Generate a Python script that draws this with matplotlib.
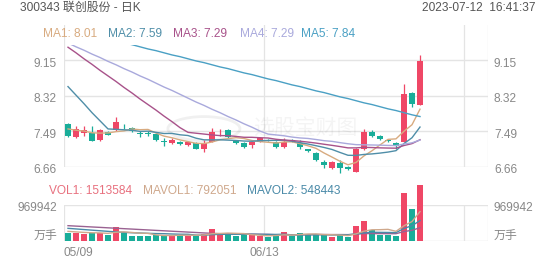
import numpy as np
import pandas as pd
import matplotlib
matplotlib.use("Agg")
import matplotlib.pyplot as plt
from matplotlib.patches import Rectangle, Circle

plt.rcParams['font.family'] = ['Liberation Sans', 'Noto Sans CJK SC', 'DejaVu Sans']

title = "300343 联创股份 - 日K"
timestamp = "2023-07-12  16:41:37"

opens = [7.66, 7.36, 7.46, 7.46, 7.30, 7.47, 7.52, 7.62, 7.58, 7.45,
         7.45, 7.43, 7.26, 7.22, 7.25, 7.18, 7.23, 7.07, 7.25, 7.45,
         7.52, 7.27, 7.22, 7.17, 7.25, 7.30, 7.25, 7.12, 7.30, 7.22,
         7.07, 6.98, 6.78, 6.63, 6.76, 6.67, 6.55, 7.07, 7.48, 7.38,
         7.28, 7.22, 7.25, 8.38, 8.12]
highs = [7.68, 7.63, 7.61, 7.61, 7.56, 7.49, 7.84, 7.67, 7.60, 7.49,
         7.49, 7.45, 7.33, 7.34, 7.27, 7.27, 7.25, 7.30, 7.58, 7.56,
         7.55, 7.29, 7.24, 7.26, 7.35, 7.32, 7.27, 7.33, 7.32, 7.29,
         7.09, 7.00, 6.82, 6.80, 6.82, 6.69, 7.10, 7.56, 7.53, 7.40,
         7.30, 7.25, 8.60, 8.42, 9.28]
lows = [7.37, 7.33, 7.38, 7.27, 7.27, 7.40, 7.50, 7.56, 7.48, 7.36,
        7.38, 7.27, 7.15, 7.19, 7.18, 7.16, 7.08, 7.01, 7.24, 7.38,
        7.33, 7.20, 7.10, 7.10, 7.24, 7.26, 7.11, 7.11, 7.24, 7.07,
        7.01, 6.80, 6.64, 6.62, 6.53, 6.60, 6.54, 7.06, 7.35, 7.29,
        7.24, 7.09, 7.24, 8.07, 8.10]
closes = [7.39, 7.56, 7.52, 7.27, 7.52, 7.41, 7.71, 7.61, 7.49, 7.44,
          7.44, 7.29, 7.25, 7.30, 7.19, 7.24, 7.09, 7.22, 7.48, 7.46,
          7.36, 7.21, 7.12, 7.25, 7.33, 7.28, 7.12, 7.25, 7.26, 7.12,
          7.03, 6.82, 6.71, 6.78, 6.63, 6.62, 7.09, 7.48, 7.38, 7.31,
          7.27, 7.15, 8.37, 8.14, 9.13]
volumes = [224000, 224000, 197000, 224000, 224000, 162000, 368000, 251000, 144000, 126000,
           144000, 162000, 162000, 144000, 162000, 144000, 162000, 197000, 314000, 197000,
           197000, 126000, 162000, 162000, 135000, 117000, 162000, 251000, 135000, 207000,
           180000, 180000, 162000, 117000, 162000, 110000, 405000, 530000, 305000, 174000,
           155000, 140000, 1280000, 871700, 1513584]

# moving-average values before enough in-window history exists
ma1_head = [7.55, 7.52, 7.50, 7.46]
ma2_head = [8.54, 8.34, 8.14, 7.93, 7.74, 7.55, 7.54, 7.53, 7.52]
ma3_head = [9.46, 9.33, 9.19, 9.06, 8.92, 8.79, 8.66, 8.52, 8.39, 8.25,
            8.12, 7.99, 7.85, 7.72, 7.58, 7.47, 7.45, 7.43, 7.41]
ma4_head = [9.56, 9.47, 9.39, 9.30, 9.22, 9.13, 9.05, 8.96, 8.88, 8.79,
            8.71, 8.62, 8.53, 8.45, 8.36, 8.27, 8.18, 8.10, 8.01, 7.93,
            7.84, 7.76, 7.67, 7.59, 7.50, 7.43, 7.41, 7.39, 7.36]
ma5_vals = [9.89, 9.84, 9.80, 9.75, 9.70, 9.66, 9.61, 9.56, 9.52, 9.47,
            9.42, 9.38, 9.33, 9.28, 9.24, 9.19, 9.14, 9.10, 9.05, 9.00,
            8.96, 8.91, 8.86, 8.82, 8.77, 8.72, 8.68, 8.63, 8.58, 8.54,
            8.49, 8.44, 8.40, 8.35, 8.30, 8.26, 8.21, 8.16, 8.12, 8.07,
            8.02, 7.98, 7.93, 7.88, 7.84]
mavol1_head = [260000, 245000, 232000, 222000]
mavol2_head = [341000, 325000, 308000, 292000, 276000, 260000, 245000, 232000, 222000]
mavol3_head = [413000, 401000, 390000, 378000, 367000, 355000, 344000, 332000, 321000, 309000,
               298000, 286000, 275000, 263000, 252000, 240000, 229000, 217000, 206000]

legend_ma = ["MA1: 8.01", "MA2: 7.59", "MA3: 7.29", "MA4: 7.29", "MA5: 7.84"]
legend_vol = ["VOL1: 1513584", "MAVOL1: 792051", "MAVOL2: 548443"]
price_ticks = [9.15, 8.32, 7.49, 6.66]
price_tick_labels = ["9.15", "8.32", "7.49", "6.66"]
vol_tick = 969942
vol_tick_labels = ["969942", "万手"]
date_labels = ["05/09", "06/13"]
date_pos = [-0.5, 24.5]

RED = "#ef4766"
TEAL = "#19ad99"
MA_COLORS = ["#d8ab80", "#4f8ea8", "#a8528a", "#a9a9dc", "#4aa0c4"]
VOL_COLORS = ["#e8707e", "#cfa88c", "#4a8aa8"]
VOL3_COLOR = "#9a6292"
GRID = "#e4e4e4"
TXT = "#888888"

W, H = 552, 265
fig = plt.figure(figsize=(W / 100, H / 100), dpi=100)

def fx(px):
    return px / W

def fy(py):
    return 1 - py / H

n = len(closes)
x = np.arange(n)
c = np.array(closes)

def rolling_with_head(vals, win, head):
    out = pd.Series(vals, dtype=float).rolling(win).mean().to_numpy()
    out[:len(head)] = head
    return out

ma1 = rolling_with_head(c, 5, ma1_head)
ma2 = rolling_with_head(c, 10, ma2_head)
ma3 = rolling_with_head(c, 20, ma3_head)
ma4 = rolling_with_head(c, 30, ma4_head)
ma5 = np.array(ma5_vals)
v = np.array(volumes, dtype=float)
mavol1 = rolling_with_head(v, 5, mavol1_head)
mavol2 = rolling_with_head(v, 10, mavol2_head)
mavol3 = rolling_with_head(v, 20, mavol3_head)

L, R = 64, 488
PT, PB = 25, 167
axp = fig.add_axes([fx(L), fy(PB), fx(R - L), (PB - PT) / H])
axv = fig.add_axes([fx(L), fy(241), fx(R - L), (241 - 205) / H])

xlim = (-0.5, 52.5)
for ax in (axp, axv):
    ax.set_xlim(*xlim)
    ax.set_xticks([])
    ax.set_yticks([])
    for s in ax.spines.values():
        s.set_visible(False)
    ax.patch.set_alpha(0)
    for gx in [-0.5, 24.5, 49.5, 52.5]:
        ax.axvline(gx, color=GRID, lw=0.9, zorder=0)

axp.set_ylim(6.66, 9.98)
for t in price_ticks:
    axp.axhline(t, color=GRID, lw=1.0, zorder=0)

colors = [RED if cl >= op else TEAL for op, cl in zip(opens, closes)]

# watermark
axp.add_patch(Circle((0.33, 0.27), 0.085, transform=axp.transAxes, fill=False,
                     ec="#000000", alpha=0.06, lw=2.0, zorder=1))
axp.text(0.57, 0.27, "选股宝财图", transform=axp.transAxes, fontsize=15,
         color="#000000", alpha=0.045, ha="center", va="center", zorder=1)

# candles
axp.vlines(x, lows, highs, colors=colors, lw=0.9, zorder=3, clip_on=False)
bottoms = np.minimum(opens, closes)
heights = np.maximum(np.abs(np.array(closes) - np.array(opens)), 0.012)
axp.bar(x, heights, bottom=bottoms, width=0.74, color=colors, zorder=4, clip_on=False)

# MA lines clipped below the legend band
clip_top = (PB - 45) / (PB - PT)
for arr, col in zip([ma1, ma2, ma3, ma4, ma5], MA_COLORS):
    ln, = axp.plot(x, arr, color=col, lw=1.0, zorder=5)
    rect = Rectangle((0, -0.2), 1, clip_top + 0.2, transform=axp.transAxes,
                     visible=False)
    axp.add_patch(rect)
    ln.set_clip_path(rect)

# volume
axv.set_ylim(0, vol_tick)
axv.axhline(vol_tick, color=GRID, lw=1.0, zorder=0)
axv.axhline(0, color=GRID, lw=1.0, zorder=0)
axv.bar(x, v, width=0.74, color=colors, zorder=3, clip_on=False)
axv.plot(x, mavol3, color=VOL3_COLOR, lw=1.0, zorder=5, clip_on=False)
axv.plot(x, mavol2, color=VOL_COLORS[2], lw=1.0, zorder=5, clip_on=False)
axv.plot(x, mavol1, color=VOL_COLORS[1], lw=1.0, zorder=6, clip_on=False)

fs = 8.6
# title row
fig.text(fx(20), fy(8), title, fontsize=fs, color="#555555", va="center", ha="left")
fig.text(fx(535), fy(8), timestamp, fontsize=fs, color="#555555", va="center", ha="right")

# MA legend
for lbl, col, px in zip(legend_ma, MA_COLORS, [43, 108, 173, 240, 301]):
    fig.text(fx(px), fy(34), lbl, fontsize=fs, color=col, va="center", ha="left")

# volume legend
for lbl, col, px in zip(legend_vol, VOL_COLORS, [49, 143, 247]):
    fig.text(fx(px), fy(191.5), lbl, fontsize=fs, color=col, va="center", ha="left")

# price ticks both sides
for t, lbl in zip(price_ticks, price_tick_labels):
    ypx = PB - (t - 6.66) / (9.98 - 6.66) * (PB - PT) + 3
    fig.text(fx(57), fy(ypx), lbl, fontsize=fs, color=TXT, va="center", ha="right")
    fig.text(fx(494), fy(ypx), lbl, fontsize=fs, color=TXT, va="center", ha="left")

# volume ticks
for ypx, lbl in zip([208, 236.5], vol_tick_labels):
    fig.text(fx(57), fy(ypx), lbl, fontsize=fs, color=TXT, va="center", ha="right")
    fig.text(fx(494), fy(ypx), lbl, fontsize=fs, color=TXT, va="center", ha="left")

# date labels
axv.text(date_pos[0], -0.32, date_labels[0], transform=axv.get_xaxis_transform(),
         fontsize=fs, color=TXT, ha="left", va="center")
axv.text(date_pos[1], -0.32, date_labels[1], transform=axv.get_xaxis_transform(),
         fontsize=fs, color=TXT, ha="center", va="center")

fig.savefig("out.png", dpi=100)
